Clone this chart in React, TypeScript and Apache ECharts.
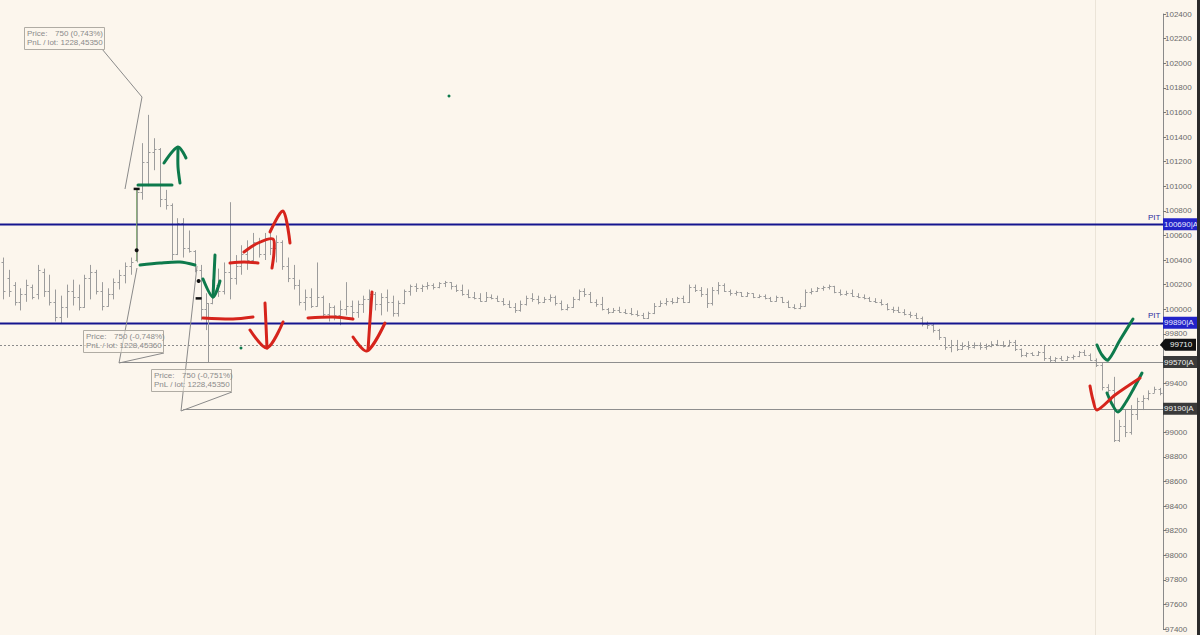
import React, { useEffect, useRef } from "react";
import * as echarts from "echarts";

// OHLC bars (one per period)
const opens = [
  100380, 100250, 100200, 100060, 100120, 100180, 100120, 100300, 100150, 100060,
  99940, 100020, 100150, 100100, 100020, 100250, 100300, 100150, 100030, 100120,
  100220, 100280, 100350, 100400, 100950, 101200, 101280, 101300, 100900, 100850,
  100450, 100700, 100500, 100470, 100320, 100000, 100050, 100200, 100150, 100300,
  100250, 100350, 100450, 100400, 100550, 100450, 100580, 100500, 100550, 100350,
  100250, 100200, 100060, 100100, 100030, 100100, 99960, 100020, 99950, 100000,
  100030, 99980, 100040, 100080, 100120, 100040, 100100, 100060, 99970, 100050,
  100150, 100190, 100170, 100190, 100200, 100180, 100210, 100220, 100190, 100160,
  100120, 100100, 100090, 100070, 100100, 100090, 100070, 100040, 100020, 99990,
  100040, 100090, 100080, 100060, 100080, 100100, 100050, 100000, 100020, 100080,
  100150, 100120, 100060, 100040, 100000, 99980, 99990, 99980, 99970, 99960,
  99950, 99930, 99970, 100030, 100050, 100070, 100060, 100090, 100060, 100180,
  100160, 100120, 100050, 100160, 100200, 100150, 100130, 100140, 100110, 100130,
  100100, 100110, 100090, 100070, 100100, 100060, 100020, 100010, 100030, 100140,
  100150, 100170, 100180, 100190, 100140, 100120, 100130, 100110, 100100, 100090,
  100070, 100060, 100040, 100000, 99990, 99980, 99960, 99950, 99930, 99880,
  99870, 99830, 99770, 99690, 99710, 99680, 99700, 99690, 99710, 99690,
  99700, 99720, 99710, 99700, 99730, 99680, 99630, 99640, 99630, 99650,
  99600, 99590, 99600, 99590, 99610, 99620, 99650, 99630, 99590, 99550,
  99370, 99340, 98940, 99050, 99000, 99150, 99250, 99280, 99320, 99350,
];
const highs = [
  100420, 100320, 100220, 100170, 100240, 100200, 100360, 100330, 100280, 100160,
  100110, 100200, 100240, 100200, 100280, 100360, 100320, 100220, 100170, 100250,
  100320, 100380, 100420, 100980, 101350, 101580, 101390, 101310, 100970, 100860,
  100740, 100740, 100640, 100480, 100360, 100130, 100240, 100330, 100380, 100870,
  100440, 100520, 100560, 100620, 100580, 100620, 100660, 100600, 100560, 100420,
  100360, 100240, 100160, 100170, 100380, 100110, 100050, 100030, 100070, 100220,
  100070, 100070, 100110, 100160, 100140, 100130, 100160, 100110, 100070, 100160,
  100200, 100210, 100200, 100220, 100210, 100220, 100230, 100220, 100200, 100200,
  100160, 100140, 100130, 100140, 100120, 100110, 100090, 100070, 100050, 100070,
  100110, 100130, 100110, 100100, 100120, 100110, 100070, 100040, 100100, 100160,
  100170, 100140, 100080, 100100, 100010, 100010, 100020, 100000, 100010, 99990,
  99970, 99980, 100050, 100070, 100090, 100090, 100100, 100110, 100200, 100200,
  100180, 100170, 100180, 100220, 100210, 100160, 100150, 100140, 100140, 100130,
  100120, 100120, 100100, 100110, 100100, 100070, 100040, 100050, 100160, 100170,
  100180, 100190, 100200, 100190, 100160, 100150, 100160, 100130, 100120, 100100,
  100090, 100080, 100050, 100020, 100020, 100000, 99980, 99970, 99940, 99900,
  99880, 99840, 99770, 99750, 99750, 99730, 99740, 99730, 99730, 99720,
  99740, 99750, 99740, 99750, 99750, 99680, 99650, 99650, 99660, 99710,
  99620, 99610, 99620, 99620, 99630, 99660, 99670, 99640, 99600, 99570,
  99390, 99450, 99100, 99180, 99220, 99280, 99300, 99340, 99370, 99360,
];
const lows = [
  100080, 100100, 100030, 99990, 100060, 100080, 100080, 100100, 100030, 99900,
  99880, 99930, 100030, 99990, 100010, 100080, 100120, 99990, 100020, 100080,
  100160, 100210, 100280, 100380, 100890, 101000, 101130, 100830, 100810, 100400,
  100440, 100420, 100460, 100300, 99910, 99830, 100040, 100100, 100120, 100080,
  100200, 100280, 100320, 100380, 100420, 100400, 100440, 100380, 100320, 100220,
  100160, 100030, 99990, 100010, 100020, 99930, 99900, 99910, 99870, 99950,
  99910, 99930, 99970, 99980, 99990, 99950, 99980, 99940, 99940, 100040,
  100110, 100140, 100140, 100160, 100160, 100170, 100180, 100160, 100140, 100110,
  100090, 100080, 100060, 100060, 100080, 100060, 100030, 100010, 99970, 99980,
  100030, 100060, 100040, 100050, 100060, 100030, 99990, 99990, 100010, 100070,
  100100, 100050, 100020, 99990, 99960, 99970, 99970, 99960, 99950, 99940,
  99920, 99920, 99960, 100020, 100030, 100040, 100050, 100050, 100050, 100140,
  100100, 100010, 100030, 100120, 100140, 100110, 100110, 100100, 100100, 100090,
  100090, 100080, 100060, 100060, 100050, 100010, 100000, 100000, 100020, 100120,
  100140, 100150, 100160, 100130, 100110, 100110, 100100, 100090, 100080, 100060,
  100050, 100030, 99990, 99970, 99970, 99950, 99930, 99920, 99860, 99840,
  99810, 99750, 99670, 99650, 99660, 99670, 99670, 99680, 99670, 99670,
  99690, 99700, 99690, 99700, 99660, 99610, 99610, 99620, 99620, 99580,
  99570, 99570, 99580, 99580, 99590, 99610, 99620, 99580, 99530, 99340,
  99320, 98920, 98920, 98960, 98980, 99100, 99180, 99260, 99320, 99300,
];
const closes = [
  100150, 100150, 100060, 100120, 100200, 100100, 100320, 100150, 100060, 99940,
  100020, 100150, 100100, 100020, 100250, 100300, 100150, 100030, 100120, 100220,
  100280, 100350, 100380, 100950, 101200, 101280, 101300, 100900, 100850, 100450,
  100700, 100500, 100470, 100320, 100000, 100050, 100200, 100150, 100300, 100250,
  100350, 100450, 100400, 100550, 100450, 100580, 100500, 100550, 100350, 100250,
  100200, 100060, 100100, 100030, 100100, 99960, 100020, 99950, 100000, 100030,
  99980, 100040, 100080, 100120, 100040, 100100, 100060, 99970, 100050, 100150,
  100190, 100170, 100190, 100200, 100180, 100210, 100220, 100190, 100160, 100120,
  100100, 100090, 100070, 100100, 100090, 100070, 100040, 100020, 99990, 100040,
  100090, 100080, 100060, 100080, 100100, 100050, 100000, 100020, 100080, 100150,
  100120, 100060, 100040, 100000, 99980, 99990, 99980, 99970, 99960, 99950,
  99930, 99970, 100030, 100050, 100070, 100060, 100090, 100060, 100180, 100160,
  100120, 100050, 100160, 100200, 100150, 100130, 100140, 100110, 100130, 100100,
  100110, 100090, 100070, 100100, 100060, 100020, 100010, 100030, 100140, 100150,
  100170, 100180, 100190, 100140, 100120, 100130, 100110, 100100, 100090, 100070,
  100060, 100040, 100000, 99990, 99980, 99960, 99950, 99930, 99880, 99870,
  99830, 99770, 99690, 99710, 99680, 99700, 99690, 99710, 99690, 99700,
  99720, 99710, 99700, 99730, 99680, 99630, 99640, 99630, 99650, 99600,
  99590, 99600, 99590, 99610, 99620, 99650, 99630, 99590, 99550, 99370,
  99340, 98940, 99050, 99000, 99150, 99250, 99280, 99320, 99350, 99320,
];
const barLabels = opens.map((_, i) => String(i + 1));

// Price levels drawn across the chart
const levelValues = [100690, 99890, 99710, 99570, 99190];
const levelTags = ["100690|A", "99890|A", "99710", "99570|A", "99190|A"];
const levelStartBar = [0, 0, 0, 20, 31];

// axis labels hidden under the level tags
const hiddenTickLabels = [99600, 99200];

// Trade annotations
const tradeBoxes = [
  { price: "750 (0,743%)", pnl: "1228,45350" },
  { price: "750 (-0,748%)", pnl: "1228,45360" },
  { price: "750 (-0,751%)", pnl: "1228,45350" },
];
const entryBar = [23, 34];
const entryPrices = [
  [100980, 100480],
  [100230, 100090],
];
const yMin = 97400;
const yMax = 102400;
const yStep = 200;

const GREEN = "#0d7a4c";
const RED = "#d6241c";

// hand-drawn marker strokes (pixel sketch)
const strokes: { c: string; p: number[][] }[] = [
  { c: GREEN, p: [[138, 185], [155, 185], [172, 185]] },
  { c: GREEN, p: [[180, 183], [178, 167], [178, 149]] },
  { c: GREEN, p: [[164, 163], [178, 147], [186, 158]] },
  { c: GREEN, p: [[140, 265], [160, 263], [180, 262], [195, 265]] },
  { c: GREEN, p: [[215, 255], [214, 276], [213, 297]] },
  { c: GREEN, p: [[203, 279], [213, 297], [220, 281]] },
  { c: GREEN, p: [[1097, 345], [1102, 355], [1108, 360], [1120, 340], [1133, 319]] },
  { c: GREEN, p: [[1107, 393], [1112, 404], [1118, 412], [1126, 402], [1134, 388], [1142, 373]] },
  { c: RED, p: [[230, 263], [244, 262], [258, 263]] },
  { c: RED, p: [[244, 252], [258, 243], [273, 239], [274, 252], [272, 268]] },
  { c: RED, p: [[270, 232], [283, 211], [290, 243]] },
  { c: RED, p: [[203, 318], [233, 319], [253, 317]] },
  { c: RED, p: [[265, 303], [266, 325], [267, 348]] },
  { c: RED, p: [[250, 330], [267, 348], [283, 322]] },
  { c: RED, p: [[308, 318], [333, 317], [353, 319]] },
  { c: RED, p: [[372, 292], [370, 320], [368, 350]] },
  { c: RED, p: [[353, 337], [367, 351], [385, 323]] },
  { c: RED, p: [[1090, 386], [1093, 400], [1097, 410], [1115, 395], [1140, 378]] },
];

export default function App() {
  const ref = useRef<HTMLDivElement>(null);
  useEffect(() => {
    if (!ref.current) return;
    const chart = echarts.init(ref.current, undefined, { renderer: "svg" });
    const data = opens.map((o, i) => [i, o, highs[i], lows[i], closes[i]]);
    const barColor = "#9c9c9c";
    chart.setOption({
      animation: false,
      backgroundColor: "#fcf6ed",
      grid: { left: 0, right: 37, top: 14, bottom: 6 },
      xAxis: { type: "category", data: barLabels, show: false, boundaryGap: true },
      yAxis: {
        type: "value",
        position: "right",
        min: yMin,
        max: yMax,
        interval: yStep,
        axisLine: { show: true, lineStyle: { color: "#8a8a8a", width: 1 } },
        axisTick: { show: true, length: 3, lineStyle: { color: "#777" } },
        axisLabel: {
          fontSize: 8,
          color: "#6a6a6a",
          margin: 2,
          fontFamily: "Liberation Sans, Arial, sans-serif",
          formatter: (v: number) => (hiddenTickLabels.includes(v) ? "" : String(v)),
        },
        splitLine: { show: false },
      },
      series: [
        {
          type: "custom",
          data,
          encode: { x: 0, y: [1, 2, 3, 4] },
          renderItem: (params: any, api: any) => {
            const x = api.value(0);
            const o = api.coord([x, api.value(1)]);
            const h = api.coord([x, api.value(2)]);
            const l = api.coord([x, api.value(3)]);
            const c = api.coord([x, api.value(4)]);
            const px = Math.round(h[0]) + 0.5;
            const st = { stroke: barColor, lineWidth: 1 };
            return {
              type: "group",
              children: [
                { type: "line", shape: { x1: px, y1: h[1], x2: px, y2: l[1] }, style: st },
                { type: "line", shape: { x1: px - 2, y1: Math.round(o[1]) + 0.5, x2: px, y2: Math.round(o[1]) + 0.5 }, style: st },
                { type: "line", shape: { x1: px, y1: Math.round(c[1]) + 0.5, x2: px + 2, y2: Math.round(c[1]) + 0.5 }, style: st },
              ],
            };
          },
        },
      ],
    });

    const yPx = (v: number) => chart.convertToPixel({ yAxisIndex: 0 }, v) as number;
    const xPx = (i: number) => chart.convertToPixel({ xAxisIndex: 0 }, i) as number;
    const right = 1163;
    const g: any[] = [];

    // faint session divider
    g.push({ type: "line", shape: { x1: 1095.5, y1: 0, x2: 1095.5, y2: 635 }, style: { stroke: "#ebe4d8", lineWidth: 1 }, z: 1 });

    // level lines
    levelValues.forEach((v, k) => {
      const y = Math.round(yPx(v)) + 0.5;
      const x0 = levelStartBar[k] === 0 ? 0 : xPx(levelStartBar[k]);
      let style: any;
      if (k < 2) style = { stroke: "#15158f", lineWidth: 2 };
      else if (k === 2) style = { stroke: "#8c8c8c", lineWidth: 1, lineDash: [2, 2] };
      else style = { stroke: "#8e8e8e", lineWidth: 1 };
      g.push({ type: "line", shape: { x1: x0, y1: y, x2: right, y2: y }, style, z: 5 });
    });

    // PIT labels
    [0, 1].forEach((k) => {
      g.push({
        type: "text",
        x: 1148,
        y: yPx(levelValues[k]) - 11,
        style: { text: "PIT", fontSize: 8, fill: "#2a2a9c", fontFamily: "Liberation Sans, Arial, sans-serif" },
        z: 20,
      });
    });

    // right axis tags
    levelValues.forEach((v, k) => {
      const y = yPx(v);
      const bg = k < 2 ? "#2323c8" : k === 2 ? "#111" : "#3a3a3a";
      if (k === 2) {
        g.push({
          type: "polygon",
          shape: { points: [[1160, y], [1165, y - 6], [1196, y - 6], [1196, y + 6], [1165, y + 6]] },
          style: { fill: bg },
          z: 30,
        });
      } else {
        g.push({ type: "rect", shape: { x: 1163, y: y - 6, width: 35, height: 12 }, style: { fill: bg }, z: 30 });
      }
      g.push({
        type: "text",
        x: k === 2 ? 1170 : 1164,
        y: y,
        style: {
          text: levelTags[k],
          fontSize: 8,
          fill: k < 2 ? "#e8e8ff" : "#f0f0f0",
          verticalAlign: "middle",
          fontFamily: "Liberation Sans, Arial, sans-serif",
        },
        z: 31,
      });
    });

    // right border
    g.push({ type: "rect", shape: { x: 1197, y: 0, width: 3, height: 635 }, style: { fill: "#2b2b2b" }, z: 40 });

    // trade lines & markers
    const x23 = xPx(entryBar[0]);
    g.push({ type: "line", shape: { x1: x23, y1: yPx(entryPrices[0][0]), x2: x23, y2: yPx(100390) }, style: { stroke: "#7aa06a", lineWidth: 1 }, z: 6 });
    const x34 = xPx(entryBar[1]);
    g.push({ type: "line", shape: { x1: 208.5, y1: 303, x2: 208.5, y2: yPx(levelValues[3]) }, style: { stroke: "#9a9a9a", lineWidth: 1 }, z: 6 });
    [[x23, entryPrices[0][0], "dash"], [x23, entryPrices[0][1], "dot"], [x34 - 2, entryPrices[1][0], "dot"], [x34 - 2, entryPrices[1][1], "dash"]].forEach((m: any) => {
      const y = yPx(m[1]);
      if (m[2] === "dot") g.push({ type: "circle", shape: { cx: m[0], cy: y, r: 2 }, style: { fill: "#111" }, z: 12 });
      else g.push({ type: "rect", shape: { x: m[0] - 3, y: y - 1, width: 6, height: 2.5 }, style: { fill: "#111" }, z: 12 });
    });

    // info boxes with leaders
    const boxes = [
      { x: 24, y: 27, leader: [[102, 49], [142, 97], [125, 189]] },
      { x: 83, y: 330, leader: [[164, 353], [119, 363], [137, 268]] },
      { x: 151, y: 369, leader: [[232, 392], [181, 411], [197, 266]] },
    ];
    boxes.forEach((b, k) => {
      g.push({ type: "polyline", shape: { points: b.leader }, style: { stroke: "#8a8a8a", lineWidth: 1, fill: null }, z: 8 });
      g.push({ type: "rect", shape: { x: b.x + 0.5, y: b.y + 0.5, width: 80, height: 22 }, style: { fill: "rgba(252,246,237,0.6)", stroke: "#b0aca4", lineWidth: 1 }, z: 9 });
      const ts = { fontSize: 8, fill: "#8a8a8a", fontFamily: "Liberation Sans, Arial, sans-serif", verticalAlign: "middle" };
      g.push({ type: "text", x: b.x + 3, y: b.y + 6.5, style: { ...ts, text: "Price:" }, z: 10 });
      g.push({ type: "text", x: b.x + 31, y: b.y + 6.5, style: { ...ts, text: tradeBoxes[k].price }, z: 10 });
      g.push({ type: "text", x: b.x + 3, y: b.y + 15.5, style: { ...ts, text: "PnL / lot: " + tradeBoxes[k].pnl }, z: 10 });
    });

    // green dots
    g.push({ type: "circle", shape: { cx: 449, cy: 96, r: 1.5 }, style: { fill: GREEN }, z: 12 });
    g.push({ type: "circle", shape: { cx: 241, cy: 348, r: 1.5 }, style: { fill: GREEN }, z: 12 });

    // hand-drawn strokes
    strokes.forEach((s) => {
      g.push({
        type: "polyline",
        shape: { points: s.p, smooth: 0.3 },
        style: { stroke: s.c, lineWidth: 3, fill: null, lineCap: "round", lineJoin: "round" },
        z: 50,
      });
    });

    chart.setOption({ graphic: g });
    return () => chart.dispose();
  }, []);
  return (
    <div
      ref={ref}
      style={{ position: "fixed", left: 0, top: 0, width: 1200, height: 635, background: "#fcf6ed" }}
    />
  );
}
